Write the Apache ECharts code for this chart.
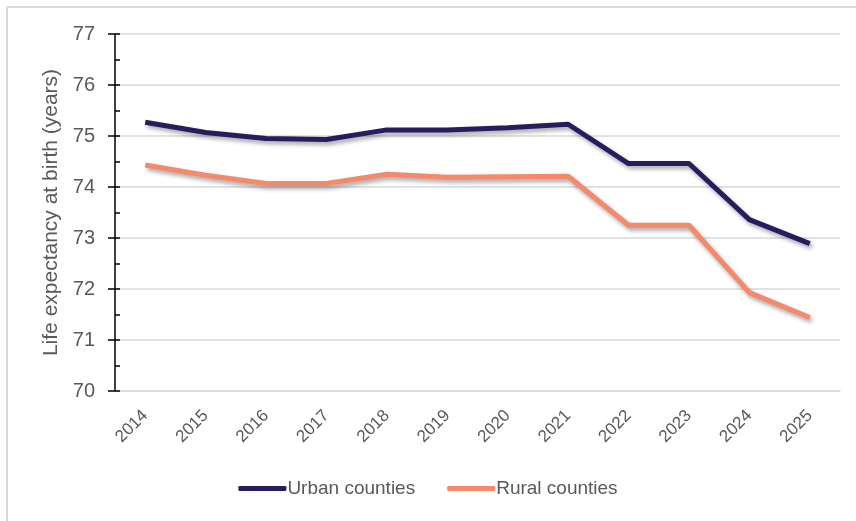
<!DOCTYPE html>
<html><head><meta charset="utf-8">
<script src="https://cdn.jsdelivr.net/npm/echarts@6/dist/echarts.min.js"></script>
<style>html,body{margin:0;padding:0;background:#fff}#c{width:856px;height:521px}</style>
</head><body><div id="c"></div>
<script>
var years = ['2014','2015','2016','2017','2018','2019','2020','2021','2022','2023','2024','2025'];
var urban = [75.27, 75.07, 74.95, 74.93, 75.12, 75.12, 75.16, 75.23, 74.46, 74.46, 73.36, 72.89];
var rural = [74.43, 74.23, 74.07, 74.07, 74.25, 74.19, 74.20, 74.21, 73.25, 73.25, 71.93, 71.44];
var yTitle = 'Life expectancy at birth (years)';
var seriesNames = ['Urban counties', 'Rural counties'];

var chart = echarts.init(document.getElementById('c'));
var grey = '#595959';
var shadow = {shadowColor:'rgba(0,0,0,0.35)', shadowBlur:4, shadowOffsetX:2, shadowOffsetY:3};
chart.setOption({
  animation:false,
  backgroundColor:'#fff',
  graphic:[
    {type:'line', shape:{x1:7,y1:7,x2:856,y2:7}, style:{stroke:'#d9d9d9', lineWidth:2}},
    {type:'line', shape:{x1:7,y1:7,x2:7,y2:521}, style:{stroke:'#d9d9d9', lineWidth:2}}
  ],
  grid:{left:115, right:16, top:34, bottom:130},
  legend:{
    bottom:18, left:'center',
    itemWidth:48, itemHeight:5, itemGap:32,
    icon:'roundRect',
    textStyle:{color:grey, fontSize:19, fontFamily:'Liberation Sans, Arial, sans-serif', padding:[0,0,0,-4]},
    data:seriesNames
  },
  xAxis:{
    type:'category', data:years, boundaryGap:true,
    axisLine:{show:true, lineStyle:{color:'#d9d9d9', width:1.5}},
    axisTick:{show:false},
    axisLabel:{rotate:45, color:grey, fontSize:17, margin:22, fontFamily:'Liberation Sans, Arial, sans-serif'}
  },
  yAxis:[{
    type:'value', min:70, max:77, interval:1,
    name:yTitle, nameLocation:'middle', nameGap:52,
    nameTextStyle:{color:grey, fontSize:21, fontFamily:'Liberation Sans, Arial, sans-serif'},
    axisLine:{show:true, lineStyle:{color:'#000', width:1.5}},
    axisTick:{show:true, inside:false, length:7, lineStyle:{color:'#000', width:1.5}},
    axisLabel:{color:grey, fontSize:20, margin:20, fontFamily:'Liberation Sans, Arial, sans-serif'},
    splitLine:{show:true, lineStyle:{color:'#d9d9d9', width:1.5}}
  },{
    type:'value', min:70, max:77, interval:0.5, position:'left',
    axisLine:{show:false},
    axisTick:{show:true, inside:true, length:5, lineStyle:{color:'#000', width:1.5}},
    axisLabel:{show:false},
    splitLine:{show:false}
  }],
  series:[
    {name:seriesNames[0], type:'line', data:urban, yAxisIndex:0, symbol:'none',
     itemStyle:{color:'#261C5E'},
     lineStyle:Object.assign({color:'#261C5E', width:5, join:'round'}, shadow)},
    {name:seriesNames[1], type:'line', data:rural, yAxisIndex:0, symbol:'none',
     itemStyle:{color:'#F4896B'},
     lineStyle:Object.assign({color:'#F4896B', width:5, join:'round'}, shadow)}
  ]
});
</script></body></html>
